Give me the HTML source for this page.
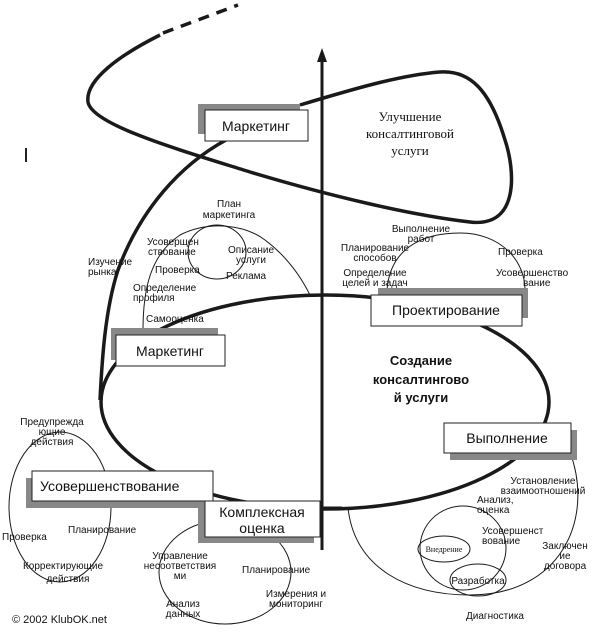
<!DOCTYPE html>
<html><head><meta charset="utf-8"><style>
html,body{margin:0;padding:0;background:#fff;}
svg{display:block;}
text{font-family:"Liberation Sans",sans-serif;fill:#111;}
.s{font-size:10px;}
.b{font-size:14px;}
</style></head><body>
<svg width="600" height="642" viewBox="0 0 600 642" xmlns="http://www.w3.org/2000/svg">
<g fill="none" stroke="#1a1a1a">
<!-- dashed top -->
<path d="M163 33 L238 5" stroke-width="3.5" stroke-dasharray="11,8"/>
<!-- top loop -->
<path d="M160 35 C120 55 85 80 88 102 C92 125 180 150 250 172 C330 196 410 215 470 222 C520 228 515 170 505 140 C490 90 470 70 440 72 C400 75 350 90 300 105" stroke-width="3.5"/>
<!-- arrow axis -->
<path d="M322 550 L322 60" stroke-width="3"/>
<polygon points="322,48 317,62 327,62" fill="#1a1a1a" stroke="none"/>
<!-- curve from top marketing down -->
<path d="M226 140 C180 165 140 210 118 270 C105 310 102 360 100 400" stroke-width="3.5"/>
<!-- big ellipse -->
<ellipse cx="325" cy="402" rx="224" ry="107" stroke-width="3.5"/>
<path d="M320 508 L342 508" stroke-width="3"/>
<!-- thin curves -->
<path d="M143 330 C143 290 150 255 180 235 C210 220 245 225 265 240 C285 255 300 275 310 295" stroke-width="1"/>
<ellipse cx="217" cy="252" rx="29" ry="27" stroke-width="1"/>
<path d="M387 290 C390 250 420 233 460 233 C500 233 525 260 525 290" stroke-width="1"/>
<ellipse cx="60" cy="507" rx="51" ry="75" stroke-width="1"/>
<ellipse cx="225" cy="572" rx="66" ry="52" stroke-width="1"/>
<path d="M348 508 C355 570 410 595 470 595 C560 595 595 520 570 452" stroke-width="1"/>
<ellipse cx="463" cy="548" rx="43" ry="42" stroke-width="1"/>
<ellipse cx="444" cy="549" rx="26" ry="13" stroke-width="1"/>
<ellipse cx="478" cy="580" rx="28" ry="16" stroke-width="1"/>
</g>
<path d="M26 148 L26 162" stroke="#222" stroke-width="2"/>
<!-- boxes -->
<g stroke="#222" stroke-width="1">
<rect x="198" y="104" width="102" height="30" fill="#888" stroke="none"/>
<rect x="205" y="110" width="103" height="31" fill="#fff"/>
<rect x="111" y="328" width="107" height="32" fill="#888" stroke="none"/>
<rect x="116" y="335" width="109" height="31" fill="#fff"/>
<rect x="378" y="288" width="150" height="30" fill="#888" stroke="none"/>
<rect x="371" y="295" width="151" height="31" fill="#fff"/>
<rect x="450" y="430" width="127" height="30" fill="#888" stroke="none"/>
<rect x="444" y="423" width="127" height="30" fill="#fff"/>
<rect x="26" y="478" width="185" height="30" fill="#888" stroke="none"/>
<rect x="32" y="471" width="181" height="30" fill="#fff"/>
<rect x="198" y="508" width="116" height="35" fill="#888" stroke="none"/>
<rect x="205" y="501" width="115" height="36" fill="#fff"/>
</g>
<text class="b" x="256" y="131" text-anchor="middle">Маркетинг</text>
<text class="b" x="170" y="356" text-anchor="middle">Маркетинг</text>
<text class="b" x="446" y="315" text-anchor="middle">Проектирование</text>
<text class="b" x="507" y="443" text-anchor="middle">Выполнение</text>
<text class="b" x="40" y="491">Усовершенствование</text>
<text class="b" x="262" y="517" text-anchor="middle">Комплексная</text>
<text class="b" x="262" y="533" text-anchor="middle">оценка</text>
<g font-family="Liberation Serif,serif" font-size="13" text-anchor="middle">
<text x="410" y="121" style="font-family:'Liberation Serif',serif">Улучшение</text>
<text x="410" y="138" style="font-family:'Liberation Serif',serif">консалтинговой</text>
<text x="410" y="155" style="font-family:'Liberation Serif',serif">услуги</text>
</g>
<g font-size="13" font-weight="bold" text-anchor="middle">
<text x="421" y="365" style="font-size:13px">Создание</text>
<text x="421" y="384" style="font-size:13px">консалтингово</text>
<text x="421" y="402" style="font-size:13px">й услуги</text>
</g>
<g class="s">
<text class="s" x="229" y="207" text-anchor="middle">План</text>
<text class="s" x="229" y="218" text-anchor="middle">маркетинга</text>
<text class="s" x="147" y="245">Усоверщен</text>
<text class="s" x="148" y="255">ствование</text>
<text class="s" x="228" y="253">Описание</text>
<text class="s" x="236" y="263">услуги</text>
<text class="s" x="155" y="273">Проверка</text>
<text class="s" x="226" y="279">Реклама</text>
<text class="s" x="88" y="265">Изучение</text>
<text class="s" x="88" y="275">рынка</text>
<text class="s" x="133" y="291">Определение</text>
<text class="s" x="133" y="301">профиля</text>
<text class="s" x="146" y="322">Самооценка</text>
<text class="s" x="421" y="232" text-anchor="middle">Выполнение</text>
<text class="s" x="421" y="242" text-anchor="middle">работ</text>
<text class="s" x="375" y="251" text-anchor="middle">Планирование</text>
<text class="s" x="375" y="261" text-anchor="middle">способов</text>
<text class="s" x="375" y="276" text-anchor="middle">Определение</text>
<text class="s" x="375" y="286" text-anchor="middle">целей и задач</text>
<text class="s" x="498" y="255">Проверка</text>
<text class="s" x="496" y="276">Усовершенство</text>
<text class="s" x="523" y="286">вание</text>
<text class="s" x="52" y="425" text-anchor="middle">Предупрежда</text>
<text class="s" x="52" y="435" text-anchor="middle">ющие</text>
<text class="s" x="52" y="445" text-anchor="middle">действия</text>
<text class="s" x="68" y="533">Планирование</text>
<text class="s" x="2" y="540">Проверка</text>
<text class="s" x="63" y="569" text-anchor="middle">Корректирующие</text>
<text class="s" x="68" y="582" text-anchor="middle">действия</text>
<text class="s" x="180" y="559" text-anchor="middle">Управление</text>
<text class="s" x="180" y="569" text-anchor="middle">несоответствия</text>
<text class="s" x="180" y="579" text-anchor="middle">ми</text>
<text class="s" x="242" y="573">Планирование</text>
<text class="s" x="296" y="597" text-anchor="middle">Измерения и</text>
<text class="s" x="296" y="607" text-anchor="middle">мониторинг</text>
<text class="s" x="183" y="607" text-anchor="middle">Анализ</text>
<text class="s" x="183" y="617" text-anchor="middle">данных</text>
<text class="s" x="12" y="623" style="font-size:11px">© 2002 KlubOK.net</text>
<text class="s" x="543" y="484" text-anchor="middle">Установление</text>
<text class="s" x="543" y="494" text-anchor="middle">взаимоотношений</text>
<text class="s" x="477" y="503">Анализ,</text>
<text class="s" x="477" y="513">оценка</text>
<text class="s" x="482" y="534">Усовершенст</text>
<text class="s" x="482" y="544">вование</text>
<text class="s" x="565" y="549" text-anchor="middle">Заключен</text>
<text class="s" x="565" y="559" text-anchor="middle">ие</text>
<text class="s" x="565" y="569" text-anchor="middle">договора</text>
<text x="444" y="552" text-anchor="middle" style="font-family:'Liberation Serif',serif;font-size:8px">Внедрение</text>
<text class="s" x="478" y="584" text-anchor="middle">Разработка</text>
<text class="s" x="466" y="619">Диагностика</text>
</g>
</svg>
</body></html>
